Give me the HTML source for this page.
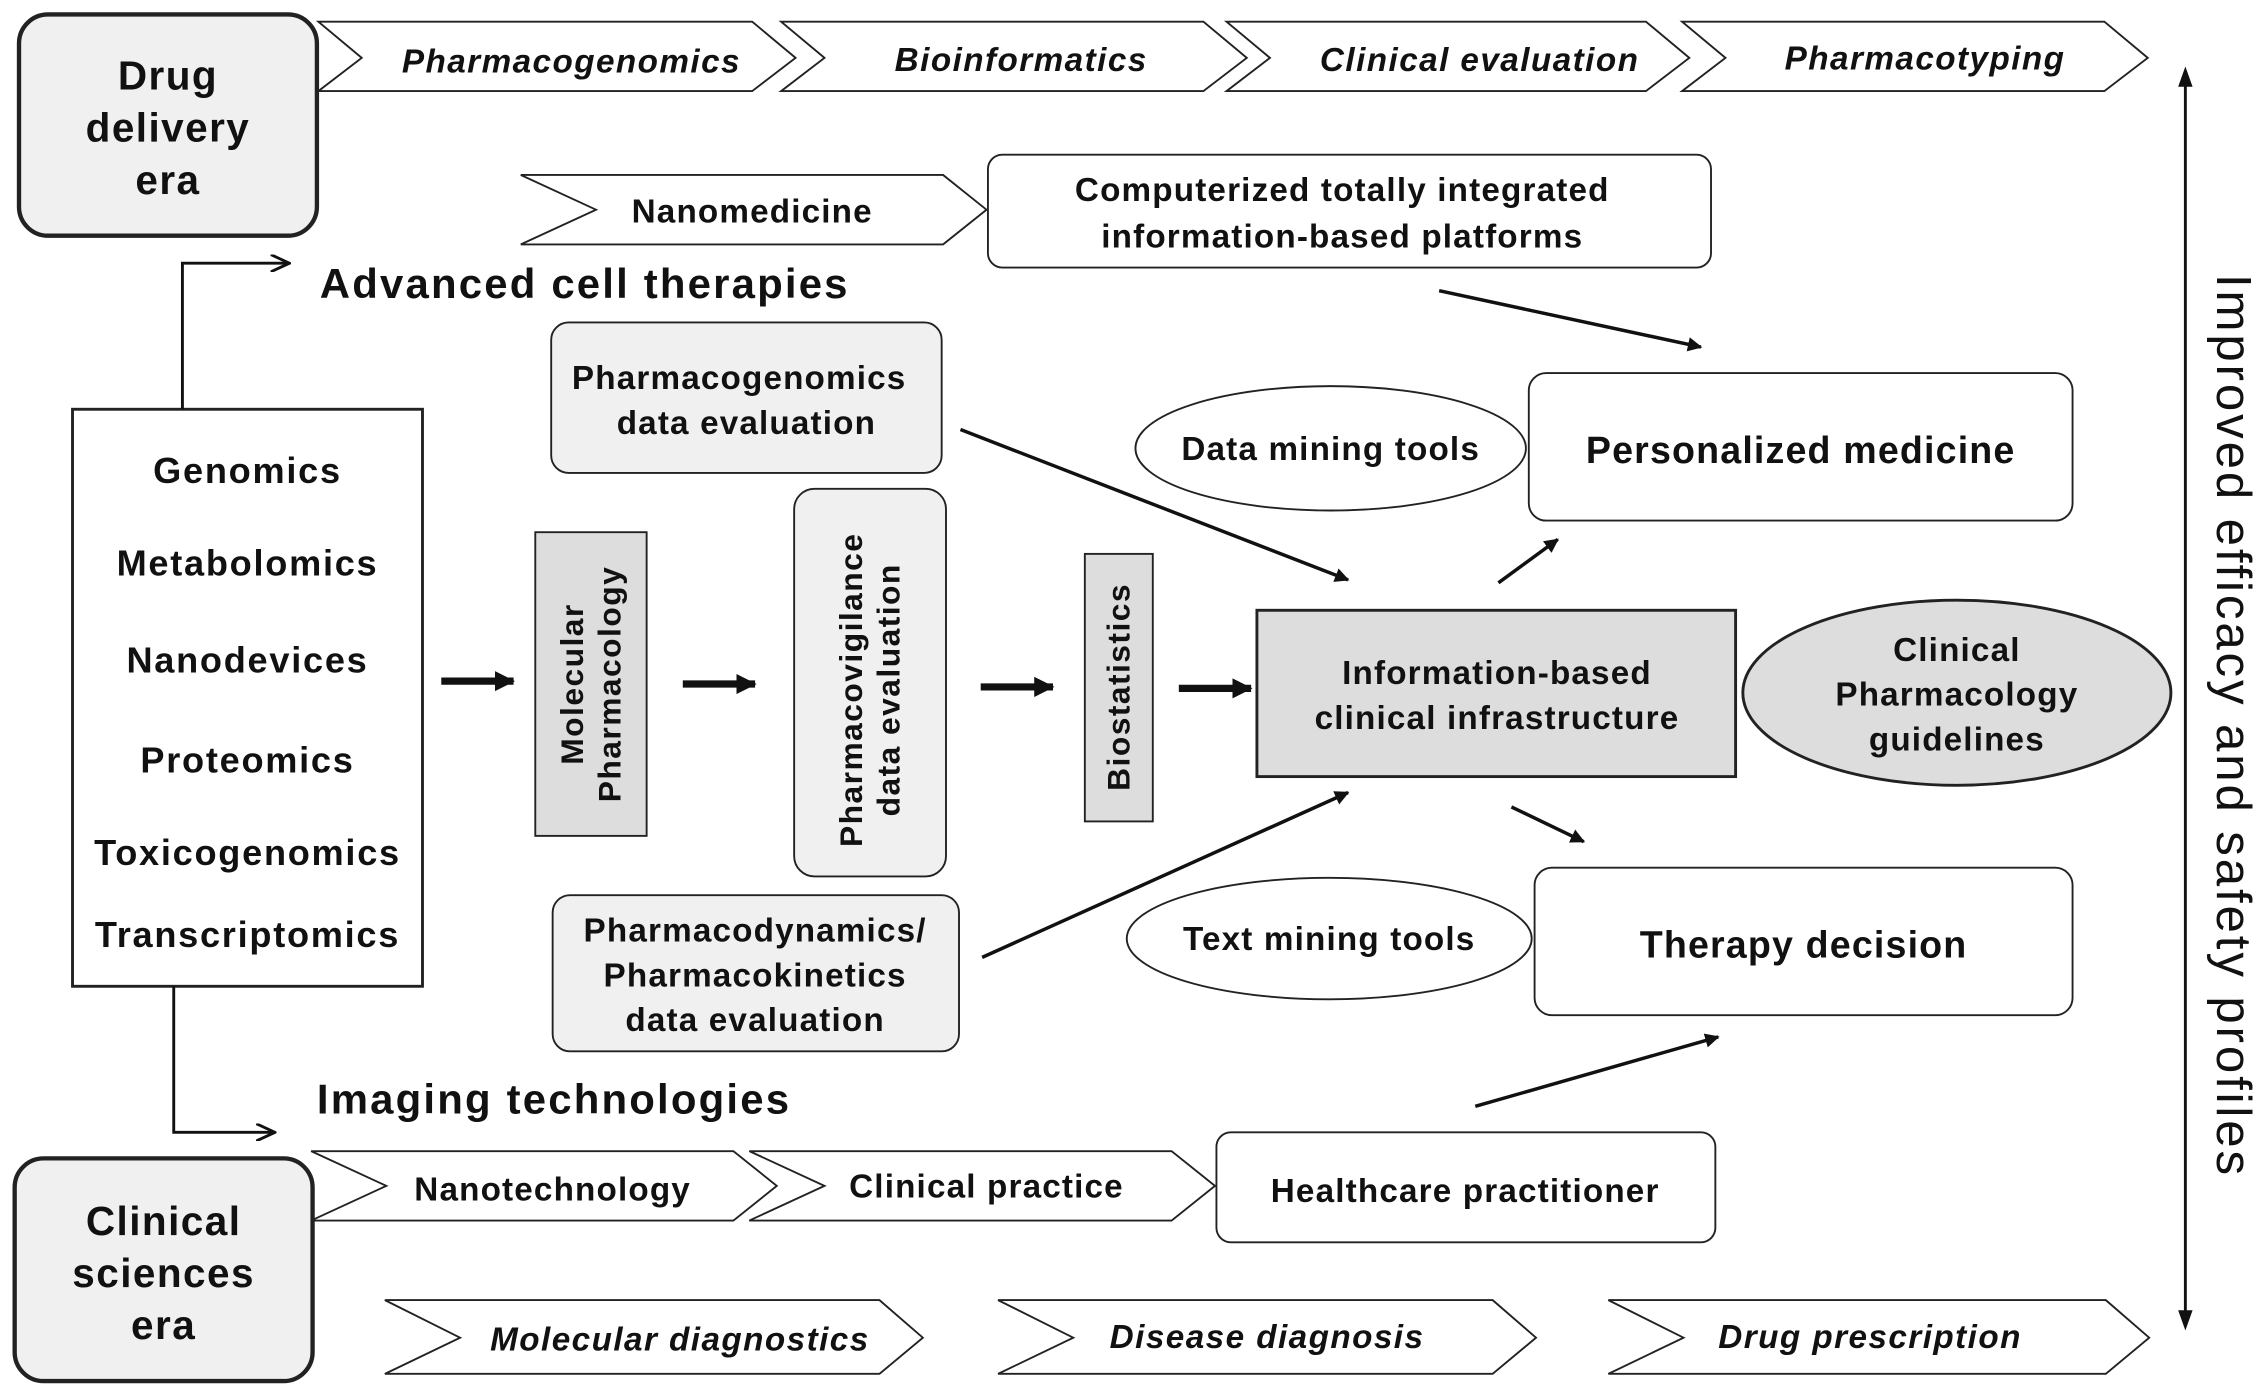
<!DOCTYPE html>
<html><head><meta charset="utf-8"><style>html,body{margin:0;padding:0;background:#fff}svg{display:block}text{font-family:"Liberation Sans",Arial,sans-serif;font-weight:bold;fill:#111}</style></head>
<body>
<svg width="2268" height="1397" viewBox="0 0 1568 966" xmlns="http://www.w3.org/2000/svg">
<defs>
<marker id="a" markerWidth="10" markerHeight="10" refX="9" refY="5" orient="auto" markerUnits="userSpaceOnUse"><path d="M0,0 L10,5 L0,10 z" fill="#111"/></marker>
<marker id="o" markerWidth="14" markerHeight="12" refX="13" refY="6" orient="auto" markerUnits="userSpaceOnUse"><path d="M0,0 L13,6 L0,12" fill="none" stroke="#111" stroke-width="2"/></marker>
<marker id="t" markerWidth="14" markerHeight="14" refX="13" refY="7" orient="auto" markerUnits="userSpaceOnUse"><path d="M0,0 L14,7 L0,14 z" fill="#111"/></marker>
</defs>
<g stroke="#222" stroke-width="1.3" fill="#fff">
<polygon points="220,15 520,15 550,40 520,63 220,63 250,40"/>
<polygon points="540,15 832,15 862,40 832,63 540,63 570,40"/>
<polygon points="848,15 1138,15 1168,40 1138,63 848,63 878,40"/>
<polygon points="1163,15 1455,15 1485,40 1455,63 1163,63 1193,40"/>
<polygon points="360,121 652,121 682,145 652,169 360,169 412,145"/>
<polygon points="215,796 507,796 537,820 507,844 215,844 267,820"/>
<polygon points="518,796 810,796 840,820 810,844 518,844 570,820"/>
<polygon points="266,899 608,899 638,925 608,950 266,950 318,925"/>
<polygon points="690,899 1032,899 1062,925 1032,950 690,950 742,925"/>
<polygon points="1112,899 1456,899 1486,925 1456,950 1112,950 1164,925"/>
<rect x="683" y="107" width="500" height="78" rx="10"/>
<rect x="1057" y="258" width="376" height="102" rx="12"/>
<rect x="1061" y="600" width="372" height="102" rx="12"/>
<rect x="841" y="783" width="345" height="76" rx="10"/>
<ellipse cx="920" cy="310" rx="135" ry="43"/>
<ellipse cx="919" cy="649" rx="140" ry="42"/>
<rect x="381" y="223" width="270" height="104" rx="12" fill="#f0f0f0"/>
<rect x="549" y="338" width="105" height="268" rx="14" fill="#f0f0f0"/>
<rect x="382" y="619" width="281" height="108" rx="12" fill="#f0f0f0"/>
<rect x="370" y="368" width="77" height="210" fill="#ddd"/>
<rect x="750" y="383" width="47" height="185" fill="#ddd"/>
<rect x="869" y="422" width="331" height="115" fill="#ddd" stroke-width="2"/>
<ellipse cx="1353" cy="479" rx="148" ry="64" fill="#ddd" stroke-width="2"/>
<rect x="50" y="283" width="242" height="399" stroke-width="2"/>
<rect x="13" y="10" width="206" height="153" rx="20" fill="#f0f0f0" stroke-width="3"/>
<rect x="10" y="801" width="206" height="154" rx="20" fill="#f0f0f0" stroke-width="3"/>
</g>
<g stroke="#111" fill="none" stroke-width="2">
<polyline points="126,283 126,182 200,182" marker-end="url(#o)"/>
<polyline points="120,682 120,783 190,783" marker-end="url(#o)"/>
<g stroke-width="2.4">
<line x1="995" y1="201" x2="1176" y2="240" marker-end="url(#a)"/>
<line x1="664" y1="297" x2="932" y2="401" marker-end="url(#a)"/>
<line x1="1036" y1="403" x2="1077" y2="373" marker-end="url(#a)"/>
<line x1="1045" y1="558" x2="1095" y2="582" marker-end="url(#a)"/>
<line x1="679" y1="662" x2="932" y2="548" marker-end="url(#a)"/>
<line x1="1020" y1="765" x2="1188" y2="717" marker-end="url(#a)"/>
</g>
<g stroke-width="5">
<line x1="305" y1="471" x2="355" y2="471" marker-end="url(#t)"/>
<line x1="472" y1="473" x2="522" y2="473" marker-end="url(#t)"/>
<line x1="678" y1="475" x2="728" y2="475" marker-end="url(#t)"/>
<line x1="815" y1="476" x2="865" y2="476" marker-end="url(#t)"/>
</g>
<line x1="1511" y1="58" x2="1511" y2="908" stroke-width="2"/>
</g>
<path d="M1511,46 L1506,60 L1516,60 z M1511,920 L1506,906 L1516,906 z" fill="#111"/>
<g text-anchor="middle" font-size="28" letter-spacing="1">
<text x="116" y="62">Drug</text><text x="116" y="98">delivery</text><text x="116" y="134">era</text>
<text x="113" y="854">Clinical</text><text x="113" y="890">sciences</text><text x="113" y="926">era</text>
</g>
<g text-anchor="middle" font-size="23" font-style="italic" letter-spacing="1">
<text x="395" y="50">Pharmacogenomics</text><text x="706" y="49">Bioinformatics</text><text x="1023" y="49">Clinical evaluation</text><text x="1331" y="48">Pharmacotyping</text>
<text x="470" y="934">Molecular diagnostics</text><text x="876" y="932">Disease diagnosis</text><text x="1293" y="932">Drug prescription</text>
</g>
<g text-anchor="middle" font-size="23" letter-spacing="0.8">
<text x="520" y="154">Nanomedicine</text>
<text x="928" y="139">Computerized totally integrated</text><text x="928" y="171">information-based platforms</text>
<text x="382" y="830">Nanotechnology</text><text x="682" y="828">Clinical practice</text><text x="1013" y="831">Healthcare practitioner</text>
<text x="511" y="269">Pharmacogenomics</text><text x="516" y="300">data evaluation</text>
<text x="522" y="651">Pharmacodynamics/</text><text x="522" y="682">Pharmacokinetics</text><text x="522" y="713">data evaluation</text>
<text x="920" y="318">Data mining tools</text><text x="919" y="657">Text mining tools</text>
<text x="1035" y="473">Information-based</text><text x="1035" y="504">clinical infrastructure</text>
<text x="1353" y="457">Clinical</text><text x="1353" y="488">Pharmacology</text><text x="1353" y="519">guidelines</text>
</g>
<g text-anchor="middle" font-size="26" letter-spacing="0.8">
<text x="1245" y="320">Personalized medicine</text><text x="1247" y="662">Therapy decision</text>
</g>
<g text-anchor="middle" font-size="25" letter-spacing="1.2">
<text x="171" y="334">Genomics</text><text x="171" y="398">Metabolomics</text><text x="171" y="465">Nanodevices</text><text x="171" y="534">Proteomics</text><text x="171" y="598">Toxicogenomics</text><text x="171" y="655">Transcriptomics</text>
</g>
<g font-size="29" letter-spacing="1.5">
<text x="221" y="206">Advanced cell therapies</text><text x="219" y="770">Imaging technologies</text>
</g>
<g text-anchor="middle" font-size="22" letter-spacing="1">
<text transform="translate(408,473) rotate(-90)"><tspan x="0" y="-5">Molecular</tspan><tspan x="0" y="21">Pharmacology</tspan></text>
<text transform="translate(601,477) rotate(-90)"><tspan x="0" y="-5">Pharmacovigilance</tspan><tspan x="0" y="21">data evaluation</tspan></text>
<text transform="translate(781,475) rotate(-90)" x="0" y="0">Biostatistics</text>
</g>
<text transform="translate(1533,502) rotate(90)" text-anchor="middle" font-size="34" letter-spacing="2" style="font-weight:normal">Improved efficacy and safety profiles</text>
</svg>
</body></html>
